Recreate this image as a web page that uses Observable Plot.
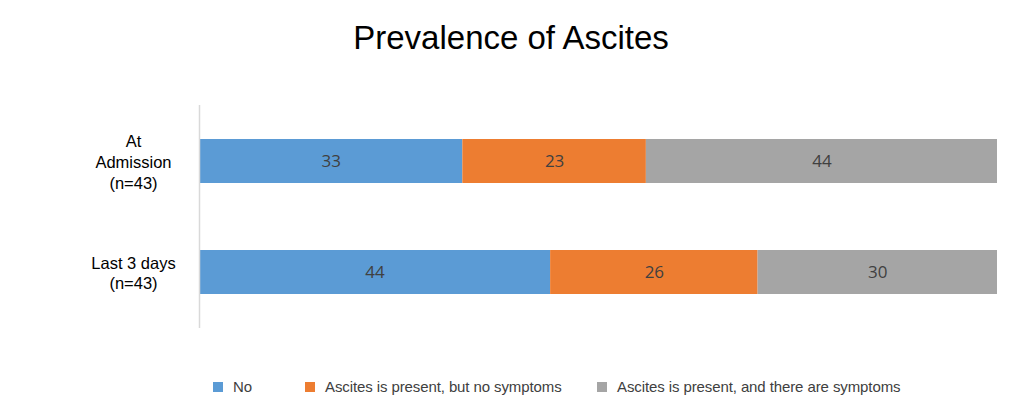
<!DOCTYPE html>
<html>
<head>
<meta charset="utf-8">
<script src="https://cdn.jsdelivr.net/npm/d3@7"></script>
<script src="https://cdn.jsdelivr.net/npm/@observablehq/plot@0.6"></script>
<style>
  html, body { margin: 0; padding: 0; background: #fff; }
  #wrap { position: relative; width: 1024px; height: 410px; overflow: hidden; }
  #title { position: absolute; top: 19px; left: 0; width: 1022px; text-align: center;
           font-family: "Liberation Sans", Arial, sans-serif; font-size: 33px; color: #000; }
  #chart { position: absolute; top: 70px; left: 0; }
  .leg { position: absolute; top: 378px; font-family: "Liberation Sans", Arial, sans-serif;
         font-size: 15px; color: #404040; display: flex; align-items: center; letter-spacing: -0.1px; }
  .sw { width: 10px; height: 10px; margin-right: 10px; display: inline-block; }
</style>
</head>
<body>
<div id="wrap">
  <div id="title">Prevalence of Ascites</div>
  <div id="chart"></div>
  <div id="legend"></div>
</div>
<script>
const categories = ["At\nAdmission\n(n=43)", "Last 3 days\n(n=43)"];
const seriesNames = ["No", "Ascites is present, but no symptoms", "Ascites is present, and there are symptoms"];
const noValues = [33, 44];
const presentNoSymptoms = [23, 26];
const presentSymptoms = [44, 30];
const colors = ["#5B9BD5", "#ED7D31", "#A5A5A5"];

const seriesValues = [noValues, presentNoSymptoms, presentSymptoms];
const rows = [];
categories.forEach((c, i) => {
  seriesNames.forEach((s, j) => rows.push({cat: c, series: s, value: seriesValues[j][i], order: j}));
});

const plot = Plot.plot({
  width: 1024,
  height: 290,
  marginLeft: 199,
  marginRight: 27,
  marginTop: 35,
  marginBottom: 32,
  x: {domain: [0, 100], axis: null},
  y: {domain: categories, paddingInner: 0.6, paddingOuter: 0.3, label: null},
  color: {domain: seriesNames, range: colors},
  style: {fontFamily: "Liberation Sans, Arial, sans-serif"},
  marks: [
    Plot.barX(rows, Plot.stackX({x: "value", y: "cat", fill: "series", order: "order"})),
    Plot.text(rows, Plot.stackX({x: "value", y: "cat", z: "series", order: "order", text: d => String(d.value),
      fill: "#404040", fontSize: 17, fontFamily: "Open Sans, sans-serif"})),
    Plot.ruleX([0], {stroke: "#d9d9d9", strokeWidth: 1.5}),
    Plot.axisY({tickSize: 0, textAnchor: "middle", dx: -55, fontSize: 16.5, fill: "#000",
      lineHeight: 1.25, label: null, tickPadding: 11})
  ]
});
document.getElementById("chart").appendChild(plot);

const legendLefts = [213, 305, 597];
const legend = document.getElementById("legend");
seriesNames.forEach((s, i) => {
  const item = document.createElement("div");
  item.className = "leg";
  item.style.left = legendLefts[i] + "px";
  item.innerHTML = `<span class="sw" style="background:${colors[i]}"></span><span>${s}</span>`;
  legend.appendChild(item);
});
</script>
</body>
</html>
